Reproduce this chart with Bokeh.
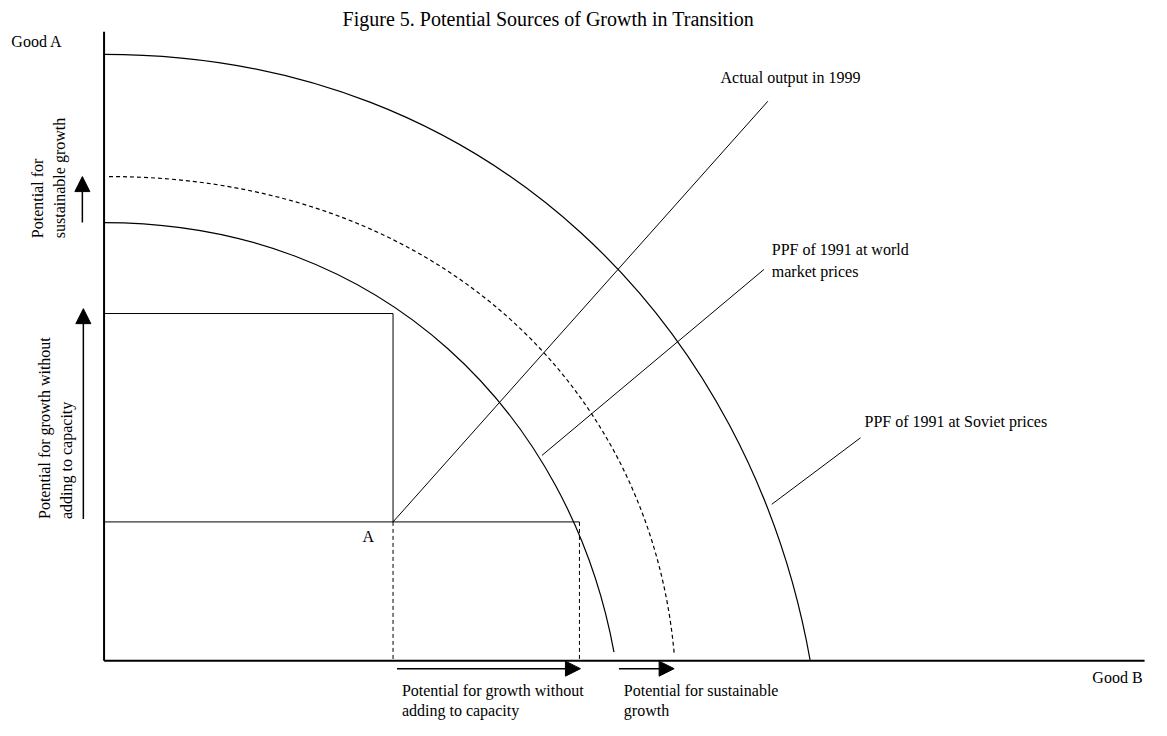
import math
from bokeh.plotting import figure
from bokeh.models import Range1d, Arrow, NormalHead
from bokeh.core.properties import value
from bokeh.embed import file_html
from bokeh.resources import INLINE

# ---------------- data (units: Good B horizontal, Good A vertical; origin at axes corner) -------------
ppf_names = ["PPF of 1991 at Soviet prices", "PPF of 1991 at world market prices", "Capacity frontier"]
ppf_start_b = [0, 5, 0]          # Good B where curve meets the Good A axis
ppf_start_a = [620, 495, 448]    # Good A intercepts
ppf_end_b = [716, 578, 517]      # Good B intercepts
ppf_end_a = [0, 8, 9]

point_a_b, point_a_a = 293, 142            # point A (actual output)
upper_corner_a = 355                        # Good A level on the frontier straight above A
right_corner_b = 482                        # Good B level on the frontier straight right of A

actual_line_end = (673, 572)                # end of "Actual output in 1999" ray
world_leader = [(444, 210), (669, 400)]
soviet_leader = [(677, 160), (767, 228)]

axis_a_top = 643
axis_b_end = 1055

title_text = "Figure 5.  Potential Sources of Growth in Transition"
label_texts = ["Actual output in 1999", "PPF of 1991 at world", "market prices",
               "PPF of 1991  at Soviet prices", "A", "Good A", "Good B",
               "Potential for growth without", "adding to capacity",
               "Potential for sustainable", "growth"]
label_b = [625, 677, 677, 771, 262, -94, 1002, 302, 302, 527, 527]
label_a = [596, 420, 398, 245, 127, 633, -17, -30, -51, -30, -51]

vlabel_texts = ["Potential for", "sustainable growth", "Potential for growth without", "adding to capacity"]
vlabel_b = [-67, -45, -60, -38]
vlabel_a = [432, 432, 145, 145]

h_arrows = [(297, 483, -8), (522, 578, -8)]      # (from B, to B, at A)
v_arrows = [(-22, 448, 495), (-21, 145, 360)]    # (at B, from A, to A)

# ---------------- styles -------------
SERIF = "Liberation Serif"
shape_k = [0.55, 0.57, 0.55]
shape_d = [60, 25, 44]
ppf_dash = ["solid", "4 3", "solid"]

p = figure(width=1151, height=720, output_backend="svg", toolbar_location=None,
           x_range=Range1d(-105, 1062), y_range=Range1d(-61, 675),
           x_axis_type=None, y_axis_type=None, min_border=0)
p.outline_line_color = None
p.grid.visible = False

# axes
p.segment(x0=[0, 0], y0=[0, 0], x1=[0, axis_b_end], y1=[axis_a_top, 0], line_color="black", line_width=2)

# frontiers as cubic curves
for i in range(3):
    x0, y0 = ppf_start_b[i], ppf_start_a[i]
    x1, y1 = ppf_end_b[i], ppf_end_a[i]
    k, d = shape_k[i], shape_d[i]
    p.bezier(x0=[x0], y0=[y0], x1=[x1], y1=[y1],
             cx0=[x0 + k * (x1 - x0)], cy0=[y0],
             cx1=[x1 - d], cy1=[y1 + k * (y0 - y1)],
             line_color="black", line_width=1.2, line_dash=ppf_dash[i])

# rectangle from A
p.segment(x0=[0, point_a_b, 0], y0=[upper_corner_a, point_a_a, point_a_a],
          x1=[point_a_b, point_a_b, right_corner_b], y1=[upper_corner_a, upper_corner_a, point_a_a],
          line_color="black", line_width=1)
p.segment(x0=[point_a_b, right_corner_b], y0=[point_a_a, point_a_a],
          x1=[point_a_b, right_corner_b], y1=[0, 0],
          line_color="black", line_width=1, line_dash="4 3")

# rays / leaders
p.segment(x0=[point_a_b, world_leader[0][0], soviet_leader[0][0]],
          y0=[point_a_a, world_leader[0][1], soviet_leader[0][1]],
          x1=[actual_line_end[0], world_leader[1][0], soviet_leader[1][0]],
          y1=[actual_line_end[1], world_leader[1][1], soviet_leader[1][1]],
          line_color="black", line_width=1)

# arrows
for (xs, xe, ya) in h_arrows:
    p.add_layout(Arrow(end=NormalHead(size=15, fill_color="black", line_color="black"),
                       x_start=xs, y_start=ya, x_end=xe, y_end=ya, line_width=1.5, line_color="black"))
for (xb, ys, ye) in v_arrows:
    p.add_layout(Arrow(end=NormalHead(size=15, fill_color="black", line_color="black"),
                       x_start=xb, y_start=ys, x_end=xb, y_end=ye, line_width=1.5, line_color="black"))

# texts
p.text(x=[453], y=[656], text=[title_text], text_font=value(SERIF),
       text_font_size="20px", text_align="center", text_baseline="middle", text_color="black")
p.text(x=label_b, y=label_a, text=label_texts, text_font=value(SERIF), text_font_size="16px",
       text_align="left", text_baseline="middle", text_color="black")
p.text(x=vlabel_b, y=vlabel_a, text=vlabel_texts, angle=math.pi / 2, text_font=value(SERIF),
       text_font_size="16px", text_align="left", text_baseline="middle", text_color="black")

open("out.html", "w").write(file_html(p, INLINE))
